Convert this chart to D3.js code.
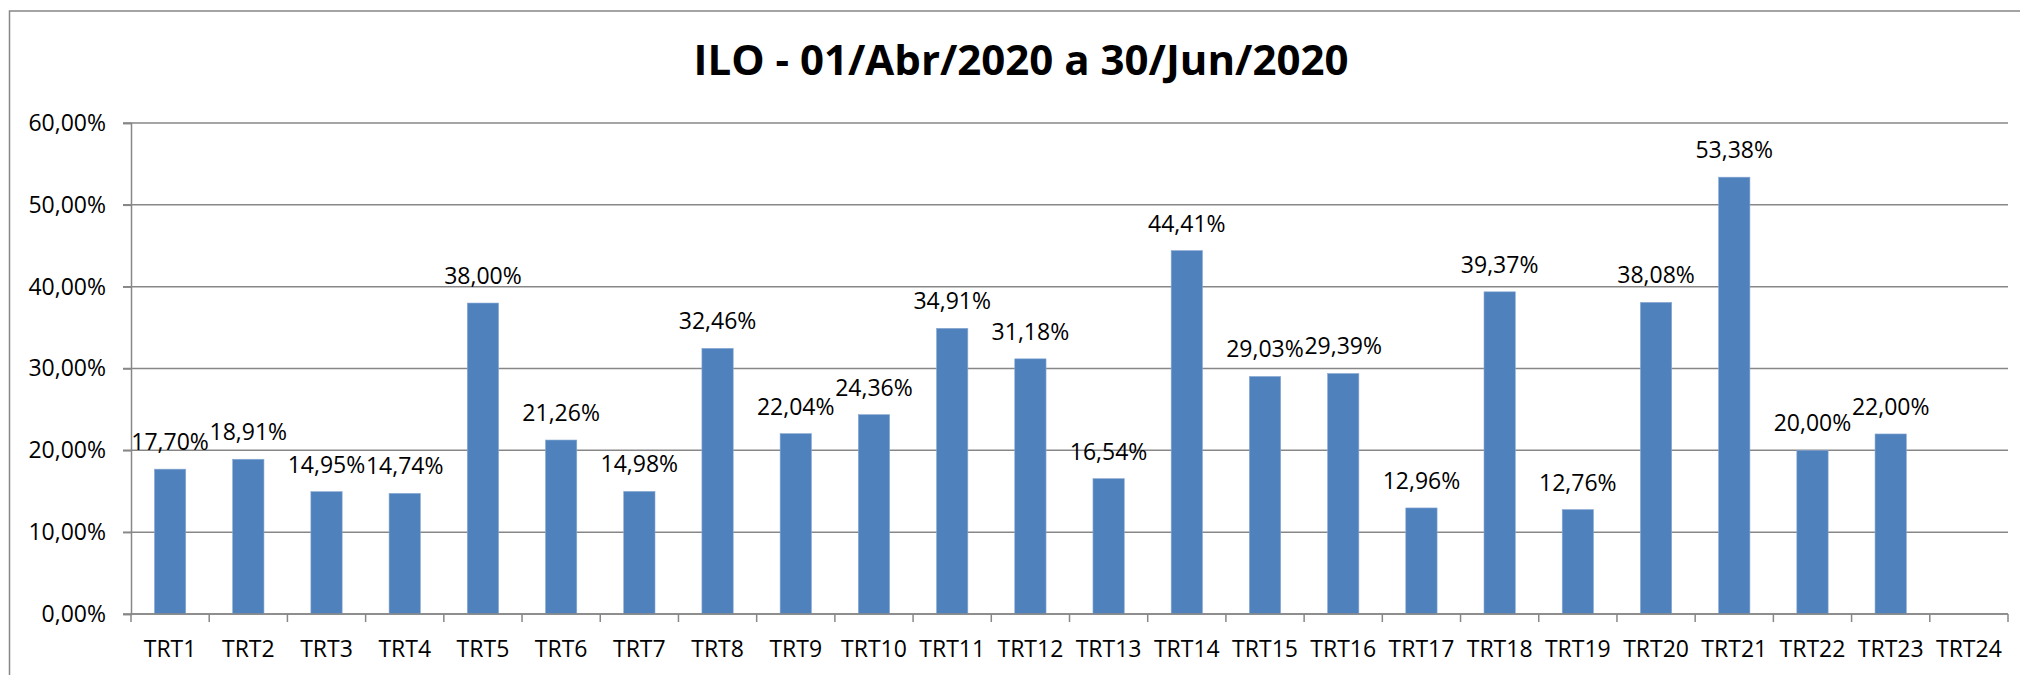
<!DOCTYPE html>
<html>
<head>
<meta charset="utf-8">
<script src="https://cdn.jsdelivr.net/npm/d3@7"></script>
<style>
	body { margin: 0; background: #fff; }
	svg { display: block; font-family: 'Open Sans', sans-serif; }
</style>
</head>
<body>
<div id="chart"></div>
<script>
/*
*	Data
*/
var categories = ['TRT1', 'TRT2', 'TRT3', 'TRT4', 'TRT5', 'TRT6', 'TRT7', 'TRT8', 'TRT9', 'TRT10', 'TRT11', 'TRT12',
	'TRT13', 'TRT14', 'TRT15', 'TRT16', 'TRT17', 'TRT18', 'TRT19', 'TRT20', 'TRT21', 'TRT22', 'TRT23', 'TRT24'];
var values = [17.70, 18.91, 14.95, 14.74, 38.00, 21.26, 14.98, 32.46, 22.04, 24.36, 34.91, 31.18,
	16.54, 44.41, 29.03, 29.39, 12.96, 39.37, 12.76, 38.08, 53.38, 20.00, 22.00, null];
var yTicks = [0, 10, 20, 30, 40, 50, 60];
var title = 'ILO - 01/Abr/2020 a 30/Jun/2020';

/*
*	Chart
*/
var width = 2020, height = 675;
var margin = { top: 123, right: 12, bottom: 61, left: 131 };
var gridColor = '#878787';

function pct(v) {
	return v.toFixed(2).replace('.', ',') + '%';
}

var svg = d3.select('#chart')
	.append('svg')
	.attr('width', width)
	.attr('height', height);

// outer chart border (runs off the right and bottom of the picture)
svg.append('rect')
	.attr('x', 9.5)
	.attr('y', 11)
	.attr('width', width + 40)
	.attr('height', height + 40)
	.attr('fill', 'none')
	.attr('stroke', gridColor)
	.attr('stroke-width', 1.5);

svg.append('text')
	.attr('x', 1021)
	.attr('y', 75)
	.attr('text-anchor', 'middle')
	.attr('font-size', 42)
	.attr('font-weight', 'bold')
	.attr('fill', '#000')
	.text(title);

var x = d3.scaleBand()
	.domain(categories)
	.range([margin.left, width - margin.right])
	.paddingInner(0.6)
	.paddingOuter(0.3);

var y = d3.scaleLinear()
	.domain([0, 60])
	.range([height - margin.bottom, margin.top]);

var g = svg.append('g');

// gridlines
g.selectAll('.grid')
	.data(yTicks)
	.enter()
	.append('line')
	.attr('class', 'grid')
	.attr('x1', margin.left - 8)
	.attr('x2', width - margin.right)
	.attr('y1', function (d) { return y(d); })
	.attr('y2', function (d) { return y(d); })
	.attr('stroke', gridColor)
	.attr('stroke-width', 1.5);

// y axis
var yAxis = d3.axisLeft(y)
	.tickValues(yTicks)
	.tickSize(8)
	.tickPadding(17)
	.tickFormat(function (d) { return pct(d); });

g.append('g')
	.attr('transform', 'translate(' + margin.left + ',0)')
	.call(yAxis)
	.call(function (s) {
		s.select('.domain').attr('stroke', gridColor).attr('stroke-width', 1.5);
		s.selectAll('.tick line').attr('stroke', gridColor).attr('stroke-width', 1.5);
		s.selectAll('text').attr('font-size', 23).attr('fill', '#000').attr('font-family', "'Open Sans', sans-serif");
	});

// bars
g.selectAll('.bar')
	.data(categories.map(function (c, i) { return { cat: c, v: values[i] }; }).filter(function (d) { return d.v != null; }))
	.enter()
	.append('rect')
	.attr('class', 'bar')
	.attr('x', function (d) { return x(d.cat); })
	.attr('width', x.bandwidth())
	.attr('y', function (d) { return y(d.v); })
	.attr('height', function (d) { return y(0) - y(d.v); })
	.attr('fill', '#4F81BD')
	.attr('stroke', '#8aaad4')
	.attr('stroke-width', 0.6);

// data labels
g.selectAll('.lbl')
	.data(categories.map(function (c, i) { return { cat: c, v: values[i] }; }).filter(function (d) { return d.v != null; }))
	.enter()
	.append('text')
	.attr('class', 'lbl')
	.attr('x', function (d) { return x(d.cat) + x.bandwidth() / 2; })
	.attr('y', function (d) { return y(d.v) - 19; })
	.attr('text-anchor', 'middle')
	.attr('font-size', 23)
	.attr('fill', '#000')
	.text(function (d) { return pct(d.v); });

// x axis: baseline, boundary ticks, labels
var step = x.step();
var x0 = margin.left;
var bottom = y(0);

g.append('line')
	.attr('x1', margin.left)
	.attr('x2', width - margin.right)
	.attr('y1', bottom)
	.attr('y2', bottom)
	.attr('stroke', gridColor)
	.attr('stroke-width', 1.5);

g.selectAll('.xtick')
	.data(d3.range(categories.length + 1))
	.enter()
	.append('line')
	.attr('class', 'xtick')
	.attr('x1', function (i) { return x0 + i * step; })
	.attr('x2', function (i) { return x0 + i * step; })
	.attr('y1', bottom)
	.attr('y2', bottom + 8)
	.attr('stroke', gridColor)
	.attr('stroke-width', 1.5);

g.selectAll('.xlbl')
	.data(categories)
	.enter()
	.append('text')
	.attr('class', 'xlbl')
	.attr('x', function (d) { return x(d) + x.bandwidth() / 2; })
	.attr('y', 657)
	.attr('text-anchor', 'middle')
	.attr('font-size', 23)
	.attr('fill', '#000')
	.text(function (d) { return d; });
</script>
</body>
</html>
